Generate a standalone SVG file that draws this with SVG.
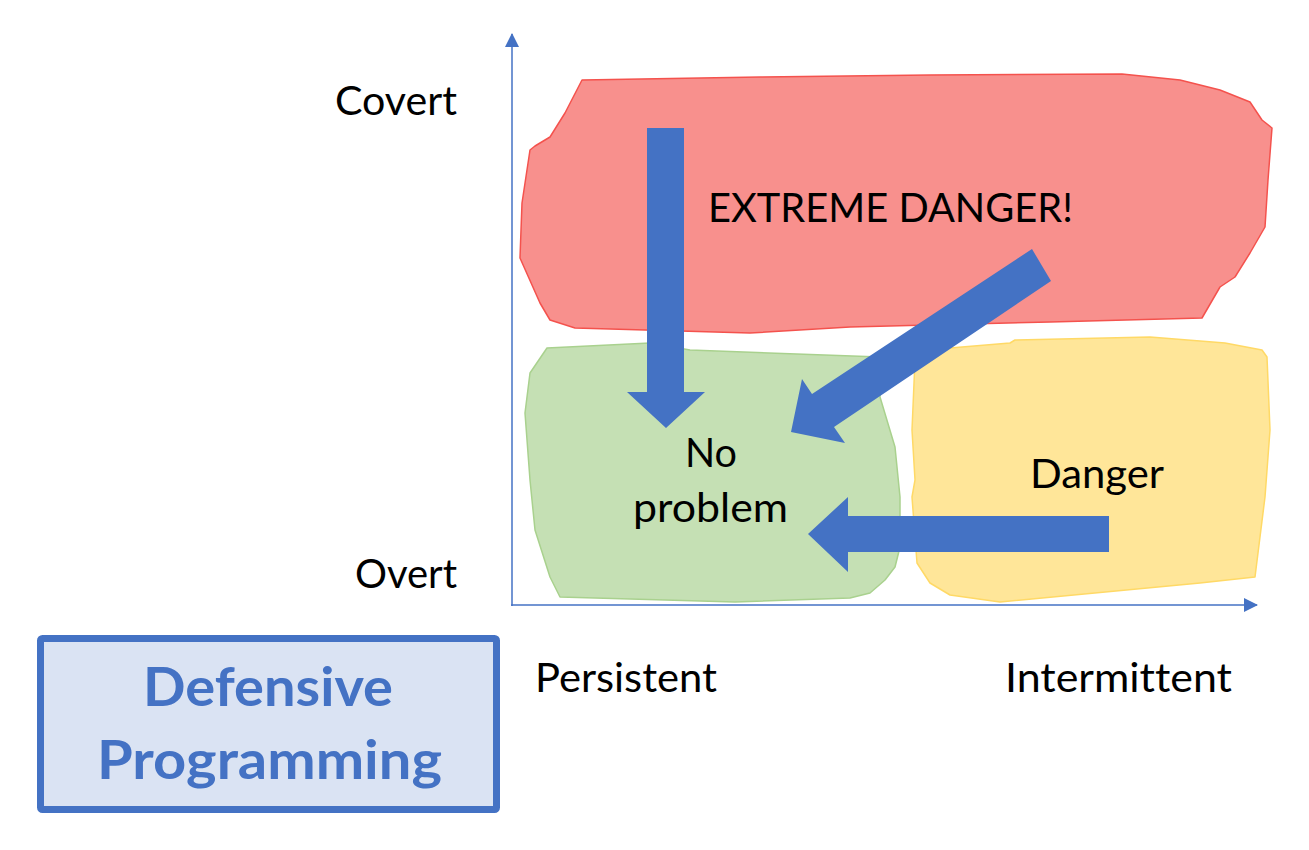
<svg xmlns="http://www.w3.org/2000/svg" width="1309" height="850" viewBox="0 0 1309 850">
<style>
.lbl{font-family:Lato,"Open Sans","Liberation Sans",sans-serif;font-size:41px;fill:#000;font-variant-ligatures:none;font-feature-settings:"liga" 0,"clig" 0}
.title{font-family:Lato,"Open Sans","Liberation Sans",sans-serif;font-weight:bold;font-size:54px;fill:#4472C4;font-variant-ligatures:none}
.axis{stroke:#4472C4;stroke-width:1.5;fill:none}
.big{fill:#4472C4;stroke:none}
</style>
<defs>
<marker id="ah" markerWidth="14" markerHeight="14" refX="13" refY="7" orient="auto" markerUnits="userSpaceOnUse" viewBox="0 0 14 14">
<path d="M0,0 L14,7 L0,14 Z" fill="#4472C4"/>
</marker>
</defs>
<rect width="1309" height="850" fill="#fff"/>
<g id="extreme">
<path d="M582,80 L760,77 L930,75 L1122,74 L1180,80 L1220,90 L1250,102 L1262,120 L1272,128 L1268,180 L1265,227 L1250,253 L1235,277 L1220,287 L1202,318 L1050,322 L850,327 L750,333 L575,328 L550,320 L540,303 L520,258 L522,203 L530,150 L535,146 L550,137 L565,113 Z" fill="#F8908D" stroke="#F4524D" stroke-width="1.5" stroke-linejoin="round"/>
<text class="lbl" x="708" y="222" textLength="365" lengthAdjust="spacingAndGlyphs">EXTREME DANGER!</text>
</g>
<g id="noproblem">
<path d="M547,348 L650,343 L690,350 L880,357 L880,397 L895,447 L900,497 L900,547 L895,567 L885,580 L870,593 L850,598 L735,602 L560,597 L550,577 L535,530 L530,480 L525,413 L530,373 Z" fill="#C5E0B4" stroke="#A9D18E" stroke-width="1.5" stroke-linejoin="round"/>
</g>
<g id="danger">
<path d="M915,360 L950,348 L1010,343 L1015,340 L1150,337 L1225,343 L1262,350 L1267,357 L1270,430 L1265,497 L1255,577 L1200,583 L1000,602 L950,595 L930,583 L917,563 L912,497 L915,480 L912,430 Z" fill="#FFE699" stroke="#FFD966" stroke-width="1.5" stroke-linejoin="round"/>
<text class="lbl" x="1030" y="488" textLength="134" lengthAdjust="spacingAndGlyphs">Danger</text>
</g>
<g id="axes">
<line class="axis" x1="512" y1="606" x2="512" y2="34" marker-end="url(#ah)"/>
<line class="axis" x1="511" y1="605" x2="1257" y2="605" marker-end="url(#ah)"/>
</g>
<g id="connectors">
<path class="big" d="M647,128 L684,128 L684,392 L705,392 L666,428 L627,392 L647,392 Z"/>
<path class="big" d="M1109,516 L1109,552 L848,552 L848,572 L808,534 L848,497 L848,516 Z"/>
<path class="big" d="M1032,249 L1051,281 L834,427 L845,443 L791,432 L802,379 L812,394 Z"/>
</g>
<g id="noproblem-label">
<text class="lbl" x="711" y="467" text-anchor="middle" textLength="52" lengthAdjust="spacingAndGlyphs">No</text>
<text class="lbl" x="710.5" y="522" text-anchor="middle" textLength="155" lengthAdjust="spacingAndGlyphs">problem</text>
</g>
<g id="labels">
<text class="lbl" x="457" y="115" text-anchor="end" textLength="122" lengthAdjust="spacingAndGlyphs">Covert</text>
<text class="lbl" x="457" y="588" text-anchor="end" textLength="102" lengthAdjust="spacingAndGlyphs">Overt</text>
<text class="lbl" x="535" y="692" textLength="182" lengthAdjust="spacingAndGlyphs">Persistent</text>
<text class="lbl" x="1005" y="692" textLength="227" lengthAdjust="spacingAndGlyphs">Intermittent</text>
</g>
<g id="defensive">
<rect x="40.5" y="638.5" width="456" height="171" rx="2" fill="#DAE3F3" stroke="#4472C4" stroke-width="7"/>
<text class="title" x="268" y="706" text-anchor="middle" textLength="250" lengthAdjust="spacingAndGlyphs">Defensive</text>
<text class="title" x="269.5" y="779" text-anchor="middle" textLength="345" lengthAdjust="spacingAndGlyphs">Programming</text>
</g>
</svg>
